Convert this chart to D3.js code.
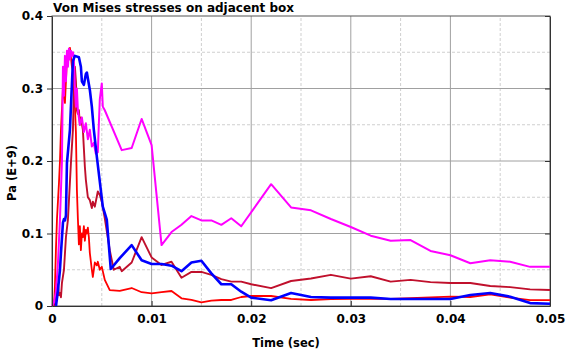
<!DOCTYPE html>
<html>
<head>
<meta charset="utf-8">
<script src="https://cdn.jsdelivr.net/npm/d3@7"></script>
<style>
  body{margin:0;background:#fff;}
  svg text{font-family:"DejaVu Sans",sans-serif;font-weight:bold;fill:#000;}
</style>
</head>
<body>
<svg></svg>
<script>
// 차트 데이터 : [time(sec), stress(Pa E+9)]
let magenta_pts = [
  [0,0],[0.0002,0.005],[0.0004,0.02],[0.0006,0.06],[0.0008,0.12],[0.001,0.2],
  [0.0011,0.33],[0.0012,0.29],[0.0013,0.345],[0.0014,0.31],[0.0015,0.352],[0.0016,0.33],
  [0.0017,0.355],[0.0018,0.34],[0.0019,0.352],[0.002,0.345],[0.0021,0.35],[0.0022,0.34],
  [0.0023,0.3],[0.0024,0.275],[0.0025,0.3],[0.0026,0.27],[0.0028,0.25],[0.003,0.26],
  [0.0032,0.24],[0.0034,0.252],[0.0036,0.23],[0.0038,0.243],[0.004,0.22],[0.0042,0.225],
  [0.0044,0.21],[0.0046,0.212],[0.0047,0.25],[0.0048,0.285],[0.005,0.307],[0.0051,0.275],
  [0.0053,0.27],[0.007,0.215],[0.008,0.218],[0.009,0.258],[0.01,0.222],[0.011,0.084],
  [0.012,0.102],[0.013,0.112],[0.014,0.124],[0.015,0.118],[0.016,0.118],[0.017,0.112],
  [0.018,0.121],[0.019,0.11],[0.022,0.168],[0.024,0.136],[0.026,0.132],[0.028,0.12],
  [0.03,0.109],[0.032,0.097],[0.034,0.09],[0.036,0.091],[0.038,0.076],[0.04,0.07],
  [0.042,0.059],[0.044,0.063],[0.046,0.061],[0.048,0.054],[0.05,0.054]
];
let red_pts = [
  [0.0002,0],[0.0003,0.03],[0.0004,0.08],[0.0005,0.12],[0.0007,0.17],[0.0008,0.2],
  [0.0009,0.243],[0.0011,0.3],[0.0013,0.28],[0.0015,0.34],[0.0016,0.35],[0.0018,0.356],
  [0.002,0.33],[0.0022,0.32],[0.0023,0.275],[0.0024,0.24],[0.0025,0.16],[0.0026,0.12],
  [0.0027,0.085],[0.0028,0.11],[0.0029,0.077],[0.003,0.1],[0.0031,0.095],[0.0032,0.11],
  [0.0033,0.09],[0.0034,0.105],[0.0035,0.1],[0.0036,0.108],[0.0037,0.095],[0.0038,0.073],
  [0.004,0.05],[0.0041,0.04],[0.0043,0.06],[0.0045,0.056],[0.0046,0.061],[0.0048,0.05],
  [0.005,0.054],[0.0053,0.036],[0.0058,0.022],[0.0068,0.021],[0.008,0.0248],[0.009,0.019],
  [0.01,0.0175],[0.011,0.019],[0.012,0.0207],[0.013,0.0106],[0.014,0.0083],[0.015,0.005],
  [0.016,0.0074],[0.017,0.0083],[0.018,0.0083],[0.019,0.0124],[0.02,0.0138],[0.022,0.0138],
  [0.024,0.0097],[0.026,0.0083],[0.028,0.0095],[0.03,0.01],[0.032,0.01],[0.034,0.0097],
  [0.036,0.011],[0.038,0.012],[0.04,0.0128],[0.042,0.0124],[0.044,0.016],[0.046,0.0115],
  [0.048,0.008],[0.05,0.008]
];
let darkred_pts = [
  [0.0002,0],[0.0003,0.01],[0.0004,0.025],[0.0005,0.008],[0.0006,0.03],[0.0007,0.015],
  [0.0008,0.018],[0.0009,0.012],[0.001,0.032],[0.0012,0.05],[0.0014,0.095],[0.0016,0.119],
  [0.0019,0.197],[0.0021,0.243],[0.0022,0.3],[0.0023,0.33],[0.0024,0.31],[0.0025,0.27],
  [0.0026,0.265],[0.0027,0.27],[0.0028,0.25],[0.0029,0.26],[0.0031,0.243],[0.0033,0.192],
  [0.0034,0.174],[0.0036,0.15],[0.0038,0.146],[0.004,0.135],[0.0041,0.144],[0.0043,0.137],
  [0.0045,0.151],[0.0046,0.158],[0.0048,0.153],[0.005,0.144],[0.0053,0.121],[0.0058,0.077],
  [0.0062,0.05],[0.0068,0.054],[0.007,0.048],[0.008,0.06],[0.009,0.095],[0.01,0.067],
  [0.011,0.0566],[0.012,0.061],[0.013,0.039],[0.014,0.047],[0.015,0.047],[0.016,0.043],
  [0.017,0.037],[0.018,0.0336],[0.019,0.0336],[0.02,0.03],[0.022,0.0246],[0.024,0.0345],
  [0.026,0.038],[0.028,0.043],[0.03,0.0377],[0.032,0.041],[0.034,0.0336],[0.036,0.036],
  [0.038,0.033],[0.04,0.0317],[0.042,0.0317],[0.044,0.0276],[0.046,0.026],[0.048,0.023],
  [0.05,0.022]
];
let blue_pts = [
  [0.0004,0],[0.0006,0.022],[0.0008,0.05],[0.0009,0.073],[0.0011,0.115],[0.0012,0.12],
  [0.0013,0.118],[0.0014,0.125],[0.0015,0.197],[0.0018,0.243],[0.0021,0.338],[0.0023,0.345],
  [0.0027,0.343],[0.0029,0.33],[0.003,0.31],[0.0032,0.305],[0.0034,0.32],[0.0035,0.322],
  [0.0038,0.298],[0.004,0.275],[0.0042,0.243],[0.0045,0.206],[0.0051,0.137],[0.0055,0.119],
  [0.0059,0.051],[0.0068,0.066],[0.008,0.084],[0.009,0.063],[0.01,0.058],[0.011,0.058],
  [0.012,0.0556],[0.013,0.048],[0.014,0.06],[0.015,0.0625],[0.016,0.045],[0.017,0.03],
  [0.018,0.03],[0.019,0.0197],[0.02,0.0115],[0.022,0.008],[0.024,0.018],[0.026,0.0124],
  [0.028,0.0115],[0.03,0.0115],[0.032,0.0115],[0.034,0.0097],[0.036,0.0097],[0.038,0.0097],
  [0.04,0.0097],[0.042,0.0152],[0.044,0.018],[0.046,0.0128],[0.048,0.004],[0.05,0.003]
];
let x_ticks = [0,0.01,0.02,0.03,0.04,0.05];
let y_ticks = [0,0.1,0.2,0.3,0.4];
let x_minor = [0.005,0.015,0.025,0.035,0.045];
let y_minor = [0.05,0.15,0.25,0.35];
// 그리는 순서 : red -> darkred -> magenta -> blue
let series = [
  {name:'red', pts:red_pts, color:'#ff0000', w:1.8},
  {name:'darkred', pts:darkred_pts, color:'#c0102c', w:1.9},
  {name:'magenta', pts:magenta_pts, color:'#ff00ff', w:2},
  {name:'blue', pts:blue_pts, color:'#0000ff', w:2.6}
];

const W = 566, H = 352;
const m = {l:52, r:16, t:16, b:46};
let svg = d3.select("svg").attr("width",W).attr("height",H);
let x_scale = d3.scaleLinear().domain([0,0.05]).range([m.l, W-m.r]);
let y_scale = d3.scaleLinear().domain([0,0.4]).range([H-m.b, m.t]);

// grid - minor (dashed)
let grid = svg.append("g").attr("class","grid");
x_minor.forEach(v=>{
  grid.append("line").attr("x1",x_scale(v)).attr("x2",x_scale(v))
    .attr("y1",y_scale(0)).attr("y2",y_scale(0.4))
    .attr("stroke","#cfcfcf").attr("stroke-dasharray","3,2");
});
y_minor.forEach(v=>{
  grid.append("line").attr("x1",x_scale(0)).attr("x2",x_scale(0.05))
    .attr("y1",y_scale(v)).attr("y2",y_scale(v))
    .attr("stroke","#cfcfcf").attr("stroke-dasharray","3,2");
});
// grid - major
x_ticks.slice(1,-1).forEach(v=>{
  grid.append("line").attr("x1",x_scale(v)).attr("x2",x_scale(v))
    .attr("y1",y_scale(0)).attr("y2",y_scale(0.4)).attr("stroke","#a0a0a0");
});
y_ticks.slice(1,-1).forEach(v=>{
  grid.append("line").attr("x1",x_scale(0)).attr("x2",x_scale(0.05))
    .attr("y1",y_scale(v)).attr("y2",y_scale(v)).attr("stroke","#a0a0a0");
});

// frame
svg.append("rect").attr("x",x_scale(0)).attr("y",y_scale(0.4))
  .attr("width",x_scale(0.05)-x_scale(0)).attr("height",y_scale(0)-y_scale(0.4))
  .attr("fill","none").attr("stroke","#555");

// lines
let line = d3.line().x(d=>x_scale(d[0])).y(d=>y_scale(d[1]));
let lg = svg.append("g").attr("class","lines");
series.forEach(s=>{
  lg.append("path").datum(s.pts).attr("d",line)
    .attr("fill","none").attr("stroke",s.color).attr("stroke-width",s.w)
    .attr("stroke-linejoin","round");
});

// axes
let x_axis = svg.append("g").attr("transform","translate(0,"+y_scale(0)+")")
  .call(d3.axisBottom(x_scale).tickValues(x_ticks).tickFormat(d=>d===0?"0":d3.format(".2f")(d)).tickSizeInner(-5).tickSizeOuter(0).tickPadding(8));
let y_axis = svg.append("g").attr("transform","translate("+x_scale(0)+",0)")
  .call(d3.axisLeft(y_scale).tickValues(y_ticks).tickFormat(d=>d===0?"0":d3.format(".1f")(d)).tickSizeInner(5).tickSizeOuter(0).tickPadding(4));
let y_axis_r = svg.append("g").attr("transform","translate("+x_scale(0.05)+",0)")
  .call(d3.axisLeft(y_scale).tickValues(y_ticks).tickFormat("").tickSizeInner(5).tickSizeOuter(0));
[x_axis,y_axis,y_axis_r].forEach(a=>{
  a.select(".domain").attr("stroke","#333");
  a.selectAll(".tick line").attr("stroke","#333");
  a.selectAll("text").style("font-size","12px").style("font-family","DejaVu Sans").style("font-weight","bold").attr("fill","#000");
});

// texts
svg.append("text").attr("x",53).attr("y",12).style("font-size","12px").text("Von Mises stresses on adjacent box");
svg.append("text").attr("x",286).attr("y",347)
  .attr("text-anchor","middle").style("font-size","11.5px").text("Time (sec)");
svg.append("text").attr("transform","translate(16,"+173+") rotate(-90)")
  .attr("text-anchor","middle").style("font-size","11.5px").text("Pa (E+9)");
</script>
</body>
</html>
